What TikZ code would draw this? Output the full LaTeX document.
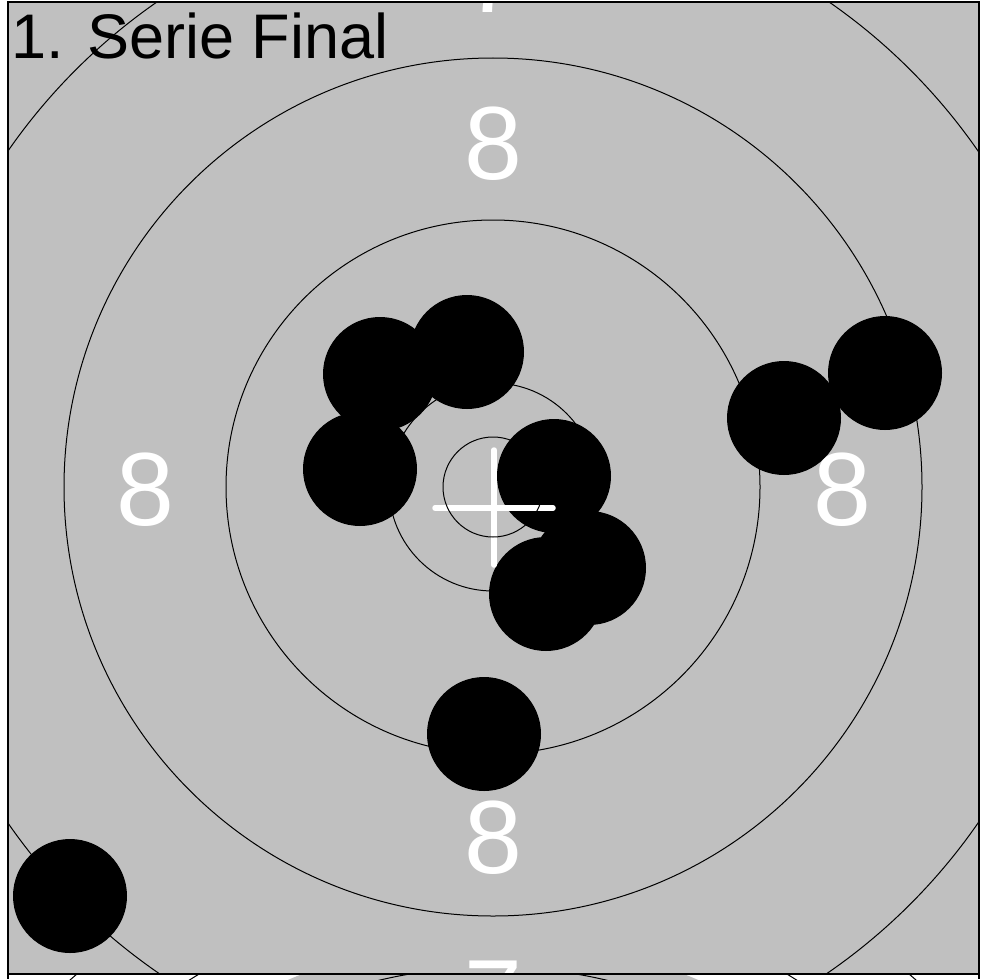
\documentclass[tikz,border=0pt]{standalone}
\usepackage{fontspec}
\setmainfont{Liberation Sans}
\definecolor{tgray}{RGB}{192,192,192}
\begin{document}
\begin{tikzpicture}[x=1pt,y=-1pt,
  ring/.style={draw=black, line width=1pt},
  shot/.style={fill=black},
  ringnum/.style={text=white, inner sep=0pt, font=\fontsize{104}{104}\selectfont},
  crossbar/.style={draw=white, line width=5.5pt, line cap=round},
  frameline/.style={draw=black, line width=1.6pt}]
\useasboundingbox (0,0) rectangle (981,979);
\fill[white] (0,0) rectangle (981,979);
% strip of the next target below
\begin{scope}
  \clip (8,975) rectangle (979,979);
  \fill[tgray] (493,1459) circle (521);
  \foreach \r in {492,567,639} \draw[ring] (493,1459) circle (\r);
\end{scope}
\draw[frameline] (8,974) -- (8,979);
\draw[frameline] (979,974) -- (979,979);
% main target
\begin{scope}
  \clip (8,2) rectangle (979,974);
  \fill[tgray] (8,2) rectangle (979,974);
  \coordinate (c) at (493,487);
  % shots
  \foreach \x/\y in {380/374, 467/352, 360/469, 554/476, 589/568, 546/594, 784/418, 885/373, 484/734, 70/896}
    \fill[shot] (\x,\y) circle (57);
  % ring numbers
  \node[ringnum] (n8t) at (493,144) {8};
  \node[ringnum] (n8l) at (145,490) {8};
  \node[ringnum] (n8r) at (842,490) {8};
  \node[ringnum] (n8b) at (493,838) {8};
  \node[ringnum] (n7t) at (493,-23) {7};
  \node[ringnum] (n7l) at (-17,487) {7};
  \node[ringnum] (n7r) at (1003,487) {7};
  \node[ringnum] (n7b) at (493,997) {7};
  % centre cross
  \draw[crossbar] (494,450) -- (494,565);
  \draw[crossbar] (435,508) -- (553,508);
  % rings
  \foreach \r in {50,104,267,429,590} \draw[ring] (c) circle (\r);
  % title
  \node[anchor=base west, inner sep=0pt, font=\fontsize{63}{63}\selectfont] (title) at (11,59) {1. Serie Final};
\end{scope}
\draw[frameline] (8,2) rectangle (979,974);
\end{tikzpicture}
\end{document}
